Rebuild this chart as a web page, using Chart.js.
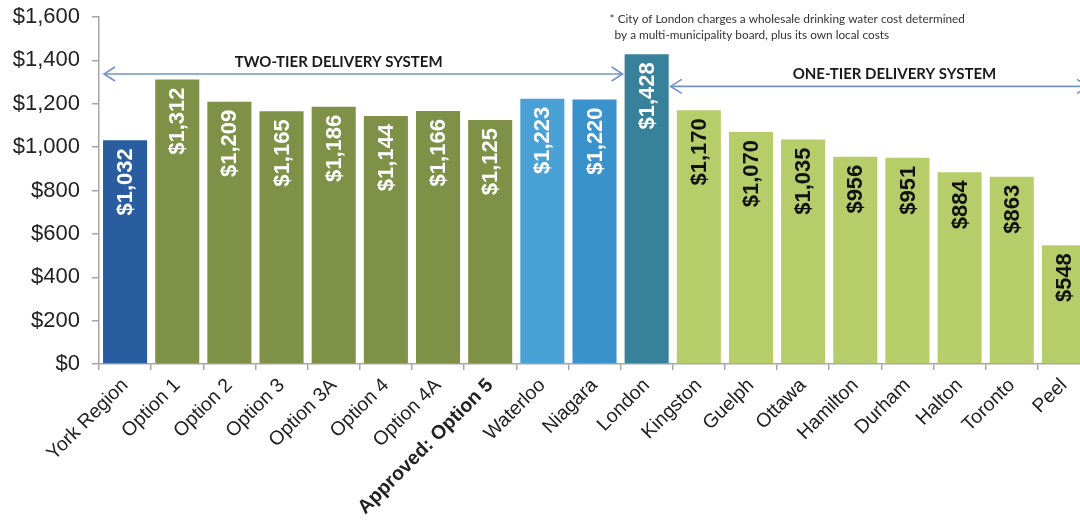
<!DOCTYPE html>
<html>
<head>
<meta charset="utf-8">
<script src="https://cdn.jsdelivr.net/npm/chart.js@4.4.1/dist/chart.umd.min.js"></script>
<style>
  html, body { margin: 0; padding: 0; background: #ffffff; overflow: hidden; }
  #wrap { position: relative; width: 1090px; height: 522px; }
</style>
</head>
<body>
<div id="wrap"><canvas id="c"></canvas></div>
<script>
// Annual water/wastewater cost by municipality and delivery option
const categories = ['York Region', 'Option 1', 'Option 2', 'Option 3', 'Option 3A', 'Option 4', 'Option 4A',
  'Approved: Option 5', 'Waterloo', 'Niagara', 'London', 'Kingston', 'Guelph', 'Ottawa', 'Hamilton',
  'Durham', 'Halton', 'Toronto', 'Peel'];
const costs = [1032, 1312, 1209, 1165, 1186, 1144, 1166, 1125, 1223, 1220, 1428,
  1170, 1070, 1035, 956, 951, 884, 863, 548];
const barColors = ['#2a5ca0', '#7e9146', '#7e9146', '#7e9146', '#7e9146', '#7e9146', '#7e9146', '#7e9146',
  '#4aa1d5', '#3a92cd', '#37819a', '#b7cd6a', '#b7cd6a', '#b7cd6a', '#b7cd6a', '#b7cd6a', '#b7cd6a', '#b7cd6a', '#b7cd6a'];
const labelColors = ['#ffffff', '#ffffff', '#ffffff', '#ffffff', '#ffffff', '#ffffff', '#ffffff', '#ffffff',
  '#ffffff', '#ffffff', '#ffffff', '#111111', '#111111', '#111111', '#111111', '#111111', '#111111', '#111111', '#111111'];
const yTicks = [0, 200, 400, 600, 800, 1000, 1200, 1400, 1600];
const tierTitles = ['TWO-TIER DELIVERY SYSTEM', 'ONE-TIER DELIVERY SYSTEM'];
const footnote = ['* City of London charges a wholesale drinking water cost determined',
  'by a multi-municipality board, plus its own local costs'];

const money = v => '$' + v.toLocaleString('en-US');

function arrowHead(ctx, x, y, dir) {
  ctx.beginPath();
  ctx.moveTo(x - dir * 11, y - 7);
  ctx.lineTo(x, y);
  ctx.lineTo(x - dir * 11, y + 7);
  ctx.stroke();
}

const annotate = {
  id: 'annotate',
  afterDatasetsDraw(chart) {
    const { ctx, chartArea, scales: { x, y } } = chart;
    const meta = chart.getDatasetMeta(0);

    // rotated value labels inside the top of each bar
    ctx.save();
    ctx.font = 'bold 22px "Liberation Sans", Arial, sans-serif';
    ctx.textAlign = 'right';
    ctx.textBaseline = 'middle';
    meta.data.forEach((bar, i) => {
      ctx.save();
      ctx.translate(bar.x + 1, bar.y + 8);
      ctx.rotate(-Math.PI / 2);
      ctx.fillStyle = labelColors[i];
      ctx.fillText(money(costs[i]), 0, 0);
      ctx.restore();
    });
    ctx.restore();

    // delivery-system brackets
    const london = meta.data[10];
    const lLeft = london.x - london.width / 2;
    const lRight = london.x + london.width / 2;
    const y2 = y.getPixelForValue(1337);
    const y1 = y.getPixelForValue(1280);
    ctx.save();
    ctx.strokeStyle = '#7392c6';
    ctx.lineWidth = 1.6;
    const a0 = chartArea.left + 5, a1 = lLeft - 2;
    ctx.beginPath(); ctx.moveTo(a0, y2); ctx.lineTo(a1, y2); ctx.stroke();
    arrowHead(ctx, a0, y2, -1);
    arrowHead(ctx, a1, y2, 1);
    const b0 = lRight + 2, b1 = chartArea.right - 2;
    ctx.beginPath(); ctx.moveTo(b0, y1); ctx.lineTo(b1, y1); ctx.stroke();
    arrowHead(ctx, b0, y1, -1);
    arrowHead(ctx, b1, y1, 1);

    ctx.fillStyle = '#1a1a1a';
    ctx.font = 'bold 15px Lato, "Open Sans", sans-serif';
    ctx.textAlign = 'center';
    ctx.textBaseline = 'middle';
    ctx.fillText(tierTitles[0], x.getPixelForValue(4) + 5, y2 - 12);
    ctx.fillText(tierTitles[1], x.getPixelForValue(15) - 13, y1 - 12);

    ctx.fillStyle = '#333333';
    ctx.font = '11.8px Lato, "Open Sans", sans-serif';
    ctx.textAlign = 'left';
    ctx.fillText(footnote[0], lLeft - 15, 19);
    ctx.fillText(footnote[1], lLeft - 10, 35);
    ctx.restore();
  }
};

new Chart(document.getElementById('c'), {
  type: 'bar',
  data: {
    labels: categories,
    datasets: [{
      data: costs,
      backgroundColor: barColors,
      borderWidth: 0,
      categoryPercentage: 1,
      barPercentage: 0.845
    }]
  },
  options: {
    responsive: true,
    maintainAspectRatio: false,
    animation: false,
    devicePixelRatio: 1,
    layout: { padding: { top: 17, left: 0, right: 0, bottom: 0 } },
    plugins: { legend: { display: false }, tooltip: { enabled: false }, title: { display: false } },
    scales: {
      x: {
        afterFit(scale) { scale.height = 158; },
        border: { display: true, color: '#a6a6a6', width: 1.5 },
        grid: { drawOnChartArea: false, drawTicks: true, tickLength: 6, color: '#a6a6a6', lineWidth: 1.5 },
        ticks: {
          autoSkip: false,
          minRotation: 45,
          maxRotation: 45,
          padding: 4,
          color: '#222222',
          font: ctx => ({ family: '"Liberation Sans", Arial, sans-serif', size: 19.5,
            weight: ctx.index === 7 ? 'bold' : 'normal' })
        }
      },
      y: {
        min: 0,
        max: 1600,
        afterFit(scale) {
          scale.width = 99;
          scale.paddingTop = 0;
          scale.paddingBottom = 0;
        },
        afterBuildTicks(scale) { scale.ticks = yTicks.map(v => ({ value: v })); },
        border: { display: true, color: '#a6a6a6', width: 1.5 },
        grid: { drawOnChartArea: false, drawTicks: true, tickLength: 7, color: '#a6a6a6', lineWidth: 1.5 },
        ticks: {
          padding: 12,
          color: '#222222',
          font: { family: '"Liberation Sans", Arial, sans-serif', size: 22 },
          callback: v => money(v)
        }
      }
    }
  },
  plugins: [annotate]
});
</script>
</body>
</html>
